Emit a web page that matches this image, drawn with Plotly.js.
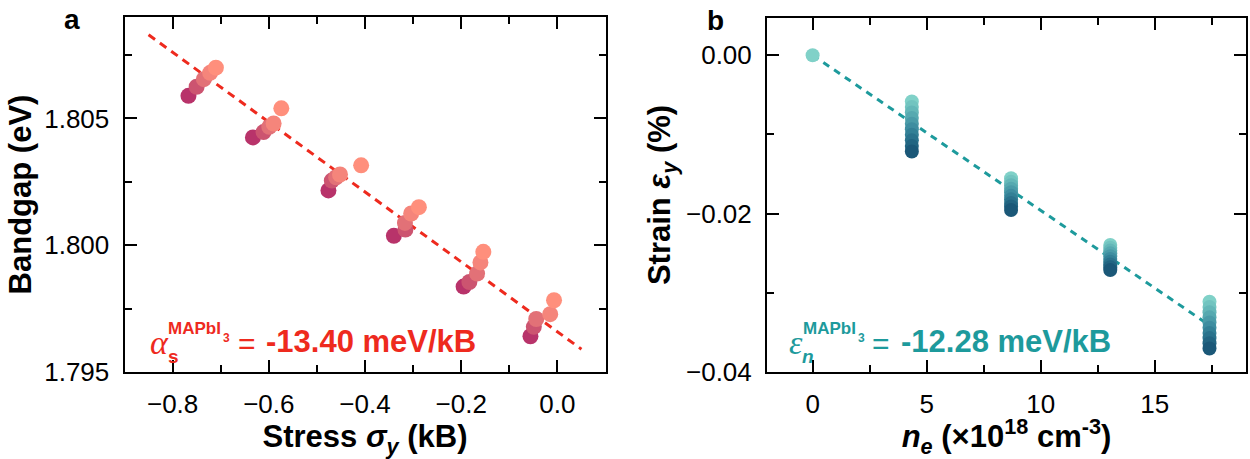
<!DOCTYPE html>
<html>
<head>
<meta charset="utf-8">
<script src="https://cdn.plot.ly/plotly-3.0.1.min.js"></script>
<style>html,body{margin:0;padding:0;background:#fff;}#chart{width:1250px;height:459px;}</style>
</head>
<body>
<div id="chart"></div>
<script>
// ---- Panel a: bandgap vs stress (5 points per stress step, dark -> light)
const stressG1 = [-0.767, -0.750, -0.735, -0.722, -0.710];
const gapG1    = [1.80589, 1.80625, 1.80655, 1.80680, 1.80700];
const stressG2 = [-0.633, -0.611, -0.599, -0.590, -0.574];
const gapG2    = [1.80425, 1.80446, 1.80467, 1.80480, 1.80540];
const stressG3 = [-0.476, -0.469, -0.460, -0.452, -0.408];
const gapG3    = [1.80216, 1.80255, 1.80268, 1.80279, 1.80315];
const stressG4 = [-0.340, -0.316, -0.317, -0.304, -0.288];
const gapG4    = [1.80037, 1.80062, 1.80088, 1.80125, 1.80150];
const stressG5 = [-0.195, -0.183, -0.167, -0.160, -0.154];
const gapG5    = [1.79837, 1.79855, 1.79888, 1.79932, 1.79974];
const stressG6 = [-0.056, -0.049, -0.044, -0.015, -0.007];
const gapG6    = [1.79641, 1.79678, 1.79709, 1.79728, 1.79783];
const fitA_x = [-0.85, 0.05];
const fitA_y = [1.8083, 1.7959];

// ---- Panel b: strain vs electron density
const neZero = [0];
const strainZero = [0];
const neLevels = [4.35, 8.7, 13.05, 17.4];
const strainN1 = [-0.00583,-0.00653,-0.00723,-0.00793,-0.00864,-0.00934,-0.01005,-0.01075,-0.01146,-0.01216];
const strainN2 = [-0.01553,-0.01598,-0.01642,-0.01687,-0.01731,-0.01776,-0.01820,-0.01865,-0.01909,-0.01954];
const strainN3 = [-0.02397,-0.02432,-0.02467,-0.02502,-0.02537,-0.02573,-0.02608,-0.02643,-0.02678,-0.02713];
const strainN4 = [-0.03113,-0.03179,-0.03244,-0.03310,-0.03375,-0.03441,-0.03506,-0.03572,-0.03637,-0.03703];
const fitB_x = [0, 17.4];
const fitB_y = [0, -0.0341];

// ---- styles
const redCols = ['#b8336a', '#cc5470', '#e27177', '#f5857b', '#ff8f7c'];
const tealCols = ['#80d1c8','#72c4c0','#64b7b8','#56a9b0','#4a9ba8','#3e8da0','#338096','#2a728c','#226582','#1b5878'];
const RED = '#ee2a1e', TEAL = '#1d9a9c';
const FONT = 'Liberation Sans, Arial, sans-serif';

const traces = [];
traces.push({x: fitA_x, y: fitA_y, mode: 'lines', xaxis: 'x', yaxis: 'y',
  line: {color: RED, width: 3, dash: '8px,6px'}, showlegend: false, hoverinfo: 'skip'});
[[stressG1,gapG1],[stressG2,gapG2],[stressG3,gapG3],[stressG4,gapG4],[stressG5,gapG5],[stressG6,gapG6]].forEach(g => {
  traces.push({x: g[0], y: g[1], mode: 'markers', xaxis: 'x', yaxis: 'y',
    marker: {size: 16, color: redCols, line: {width: 0}}, showlegend: false});
});
traces.push({x: fitB_x, y: fitB_y, mode: 'lines', xaxis: 'x2', yaxis: 'y2',
  line: {color: TEAL, width: 3, dash: '7px,6px'}, showlegend: false, hoverinfo: 'skip'});
traces.push({x: neZero, y: strainZero, mode: 'markers', xaxis: 'x2', yaxis: 'y2',
  marker: {size: 14, color: tealCols[0], line: {width: 0}}, showlegend: false});
[strainN1, strainN2, strainN3, strainN4].forEach((s, i) => {
  traces.push({x: s.map(() => neLevels[i]), y: s, mode: 'markers', xaxis: 'x2', yaxis: 'y2',
    marker: {size: 14, color: tealCols, line: {width: 0}}, showlegend: false});
});

const W = 1250, H = 459;
const px = v => v / W, py = v => 1 - v / H;

function axisBase() {
  return {
    showline: true, linewidth: 2, linecolor: '#000', mirror: 'ticks',
    ticks: 'inside', ticklen: 12, tickwidth: 2, tickcolor: '#000',
    showgrid: false, zeroline: false,
    tickfont: {family: FONT, size: 26, color: '#000'},
    ticklabelstandoff: 8
  };
}
const titleFont = {family: FONT, size: 31, color: '#000', weight: 'bold'};

const layout = {
  width: W, height: H,
  margin: {l: 0, r: 0, t: 0, b: 0},
  paper_bgcolor: '#fff', plot_bgcolor: '#fff',
  showlegend: false,
  xaxis: Object.assign(axisBase(), {
    domain: [px(124.5), px(605.5)], anchor: 'y', range: [-0.9, 0.1],
    tick0: 0, dtick: 0.2, tickformat: '.1f',
    minor: {ticks: 'inside', ticklen: 7, tickwidth: 2, tickcolor: '#000', tick0: 0, dtick: 0.1},
    title: {text: 'Stress <i>σ</i><sub><i>y</i></sub> (kB)', font: titleFont, standoff: 2}
  }),
  yaxis: Object.assign(axisBase(), {
    domain: [py(372), py(17)], anchor: 'x', range: [1.795, 1.809],
    tick0: 1.795, dtick: 0.005, tickformat: '.3f',
    minor: {ticks: 'inside', ticklen: 7, tickwidth: 2, tickcolor: '#000', tick0: 1.795, dtick: 0.0025},
    title: {text: 'Bandgap (eV)', font: titleFont, standoff: 3}
  }),
  xaxis2: Object.assign(axisBase(), {
    domain: [px(767), px(1246)], anchor: 'y2', range: [-2, 19],
    tick0: 0, dtick: 5,
    minor: {ticks: 'inside', ticklen: 7, tickwidth: 2, tickcolor: '#000', tick0: 0, dtick: 2.5},
    title: {text: '<i>n</i><sub><i>e</i></sub> (×10<sup>18</sup> cm<sup>-3</sup>)', font: titleFont, standoff: 2}
  }),
  yaxis2: Object.assign(axisBase(), {
    domain: [py(372), py(18)], anchor: 'x2', range: [-0.04, 0.0047],
    tick0: 0, dtick: 0.02, tickformat: '.2f',
    minor: {ticks: 'inside', ticklen: 7, tickwidth: 2, tickcolor: '#000', tick0: 0, dtick: 0.01},
    title: {text: 'Strain <i>ε</i><sub><i>y</i></sub> (%)', font: titleFont, standoff: 6}
  }),
  annotations: []
};

function ann(text, x, y, size, color, opts) {
  layout.annotations.push(Object.assign({
    text: text, xref: 'paper', yref: 'paper', x: px(x), y: py(y),
    xanchor: 'left', yanchor: 'middle', showarrow: false, borderpad: 0,
    font: {family: FONT, size: size, color: color}
  }, opts || {}));
}
const bold = (size, color) => ({font: {family: FONT, size: size, color: color, weight: 'bold'}});
// panel labels
ann('a', 63, 19, 28, '#000', bold(28, '#000'));
ann('b', 706, 20, 28, '#000', bold(28, '#000'));

// formula a
ann('<i>α</i>', 149, 342, 34, RED, {font: {family: 'Liberation Serif, serif', size: 34, color: RED}});
ann('s', 167, 356, 19, RED, bold(19, RED));
ann('MAPbI', 167, 328, 17, RED, bold(17, RED));
ann('3', 222, 338, 12, RED, bold(12, RED));
ann('=', 237, 343, 30, RED);
ann('-13.40 meV/kB', 265, 341, 31, RED, bold(31, RED));

// formula b
ann('<i>ε</i>', 788, 342, 34, TEAL, {font: {family: 'Liberation Serif, serif', size: 34, color: TEAL}});
ann('<i>n</i>', 801, 356, 19, TEAL, bold(19, TEAL));
ann('MAPbI', 802, 328, 17, TEAL, bold(17, TEAL));
ann('3', 857, 338, 12, TEAL, bold(12, TEAL));
ann('=', 871, 343, 30, TEAL);
ann('-12.28 meV/kB', 900, 341, 31, TEAL, bold(31, TEAL));

Plotly.newPlot('chart', traces, layout, {staticPlot: true, displayModeBar: false});
</script>
</body>
</html>
